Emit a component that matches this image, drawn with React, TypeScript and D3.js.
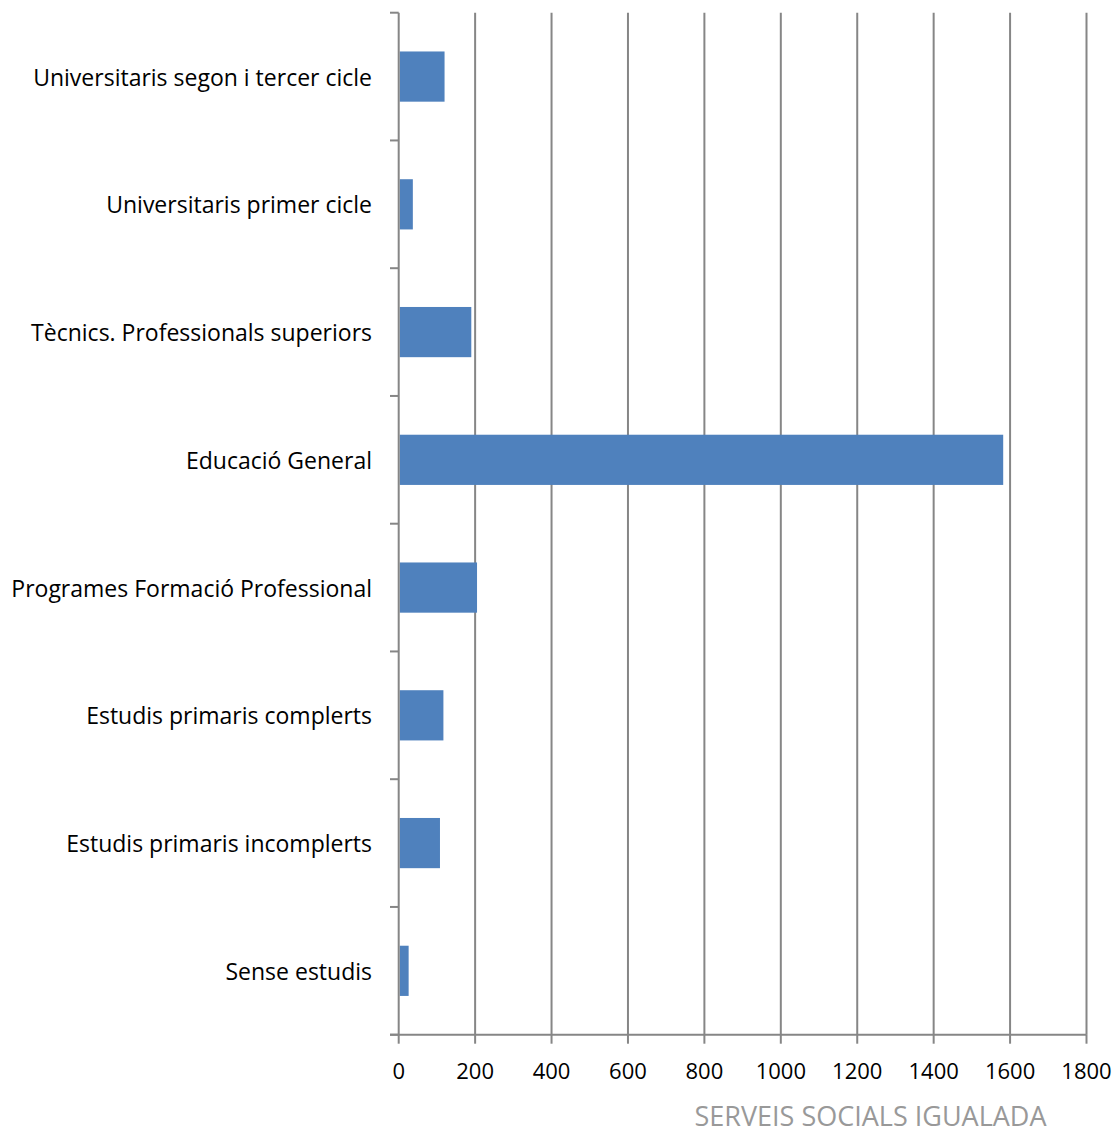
import React from "react";
import * as d3 from "d3";

const categories = [
  "Universitaris segon i tercer cicle",
  "Universitaris primer cicle",
  "Tècnics. Professionals superiors",
  "Educació General",
  "Programes Formació Professional",
  "Estudis primaris complerts",
  "Estudis primaris incomplerts",
  "Sense estudis",
];
const values = [120, 37, 190, 1582, 205, 117, 108, 26];
const xTicks = [0, 200, 400, 600, 800, 1000, 1200, 1400, 1600, 1800];
const footer = "SERVEIS SOCIALS IGUALADA";

export default function App() {
  const W = 1117, H = 1134;
  const left = 398.7, right = 1086.5, top = 12.7, bottom = 1034.7;
  const x = d3.scaleLinear().domain([0, 1800]).range([left, right]);
  const y = d3.scaleBand().domain(categories).range([top, bottom]).paddingInner(0.607).paddingOuter(0.3035);
  const band = (bottom - top) / categories.length;
  const grid = "#868686";
  const font = "'Open Sans', sans-serif";
  return (
    <svg width={W} height={H} style={{ position: "absolute", left: 0, top: 0 }}>
      <rect width={W} height={H} fill="#fff" />
      {xTicks.slice(1).map((t) => (
        <line key={"g" + t} x1={x(t)} x2={x(t)} y1={top} y2={bottom} stroke={grid} strokeWidth={2} />
      ))}
      {categories.map((c, i) => (
        <rect key={c} x={x(0) + 1} y={y(c)!} width={x(values[i]) - x(0) - 1} height={y.bandwidth()} fill="#4F81BD" />
      ))}
      <line x1={x(0)} x2={x(0)} y1={top} y2={bottom} stroke={grid} strokeWidth={2} />
      <line x1={390} x2={right} y1={bottom} y2={bottom} stroke={grid} strokeWidth={2} />
      {d3.range(categories.length + 1).map((i) => (
        <line key={"t" + i} x1={390} x2={x(0)} y1={top + i * band} y2={top + i * band} stroke={grid} strokeWidth={2} />
      ))}
      {xTicks.map((t) => (
        <line key={"xt" + t} x1={x(t)} x2={x(t)} y1={bottom} y2={bottom + 9} stroke={grid} strokeWidth={2} />
      ))}
      {categories.map((c) => (
        <text key={"l" + c} x={372} y={y(c)! + y.bandwidth() / 2} textAnchor="end" dominantBaseline="central"
          fontFamily={font} fontSize={23} fill="#000">{c}</text>
      ))}
      {xTicks.map((t) => (
        <text key={"xl" + t} x={x(t)} y={1070} textAnchor="middle" dominantBaseline="central"
          fontFamily={font} fontSize={22} fill="#000">{t}</text>
      ))}
      <text x={870.5} y={1126} textAnchor="middle" fontFamily={font} fontSize={27} fill="#999">{footer}</text>
    </svg>
  );
}
